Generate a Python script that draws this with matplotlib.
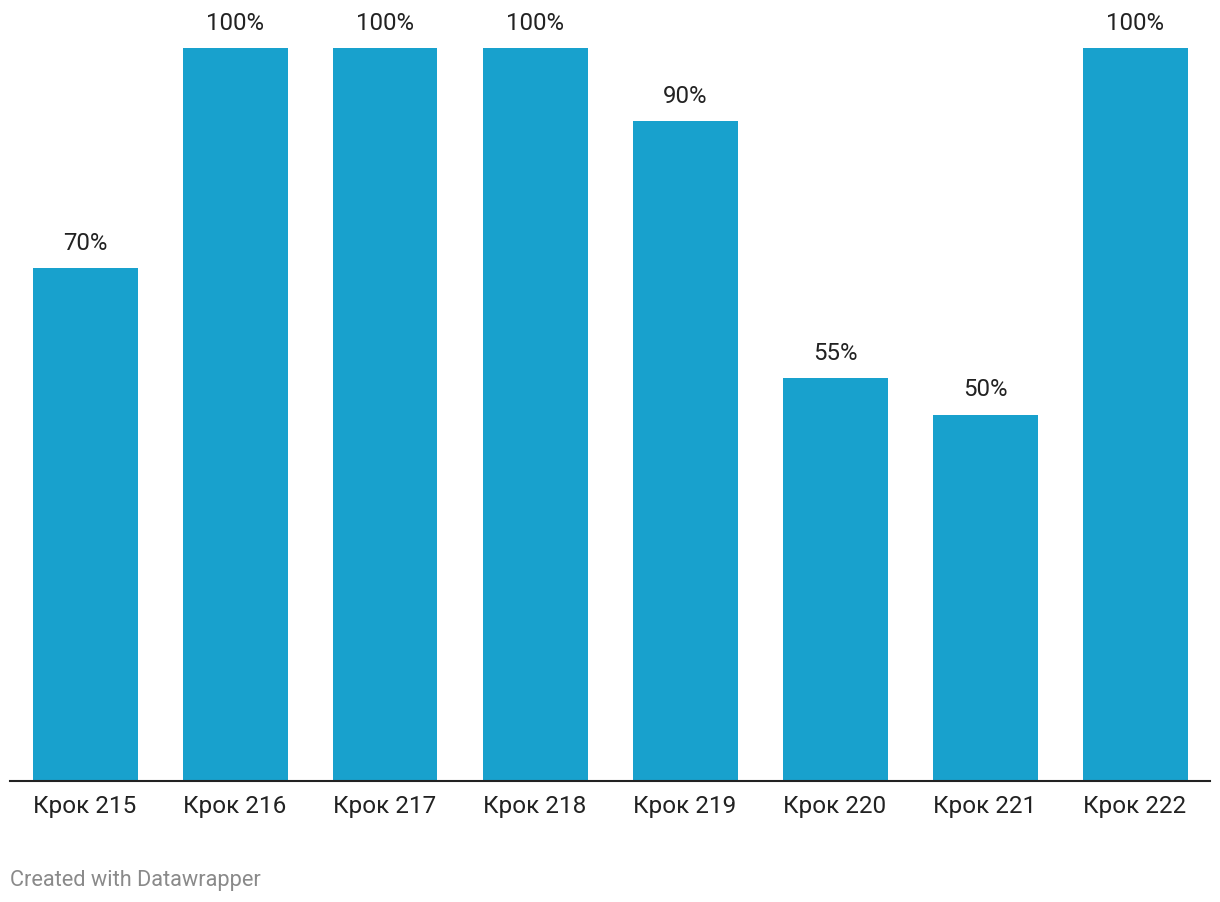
import matplotlib.pyplot as plt

plt.rcParams['font.family'] = ['Roboto', 'DejaVu Sans']

steps = ["Крок 215", "Крок 216", "Крок 217", "Крок 218",
         "Крок 219", "Крок 220", "Крок 221", "Крок 222"]
values = [70, 100, 100, 100, 90, 55, 50, 100]

fig = plt.figure(figsize=(12.2, 9.02), dpi=100)
ax = fig.add_axes([10 / 1220, 121 / 902, 1200 / 1220, 733 / 902])

x = range(len(steps))
ax.bar(x, values, width=0.7, color="#18a1cd")
for i, v in zip(x, values):
    ax.annotate(f"{v}%", (i, v), xytext=(0, 9.5), textcoords="offset points",
                ha="center", va="bottom", fontsize=17.3, color="#222222")

ax.set_xlim(-0.5, len(steps) - 0.5)
ax.set_ylim(0, 100)
ax.set_xticks(list(x))
ax.set_xticklabels(steps, fontsize=17.5, color="#222222")
ax.tick_params(axis="x", length=0, pad=10)
ax.set_yticks([])
for s in ["top", "left", "right"]:
    ax.spines[s].set_visible(False)
ax.spines["bottom"].set_color("#222222")
ax.spines["bottom"].set_linewidth(1.5)
ax.patch.set_visible(False)

fig.text(10 / 1220, 1 - 886 / 902, "Created with Datawrapper",
         fontsize=15.7, color="#8a8a8a", ha="left", va="baseline")

fig.savefig("out.png", dpi=100)
plt.close(fig)
